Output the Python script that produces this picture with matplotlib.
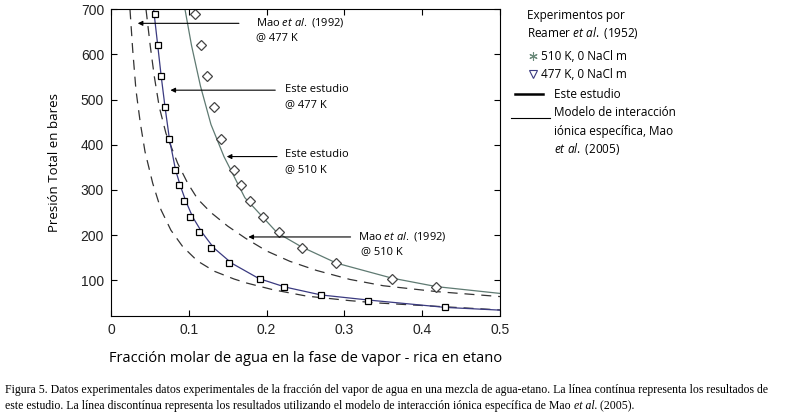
import numpy as np
import matplotlib.pyplot as plt
from matplotlib.lines import Line2D

plt.rcParams['mathtext.fontset'] = 'custom'
plt.rcParams['mathtext.rm'] = 'Open Sans'
plt.rcParams['mathtext.it'] = 'Open Sans:italic'

# --- datos experimentales (Reamer et al., 1952) ---
x_477 = [0.057, 0.0604, 0.0647, 0.069, 0.0741, 0.0823, 0.0878, 0.0934, 0.102,
         0.1127, 0.128, 0.152, 0.191, 0.223, 0.270, 0.330, 0.429]
p_477 = [690, 621, 552, 483, 414, 344, 310, 276, 240, 206, 172, 138, 104, 85,
         67.5, 55, 41]
x_510 = [0.1084, 0.1152, 0.123, 0.132, 0.142, 0.158, 0.167, 0.179, 0.195,
         0.216, 0.2455, 0.2896, 0.3616, 0.418]
p_510 = [690, 621, 552, 483, 414, 344, 310, 276, 240, 206, 172, 138, 104, 85]

# --- este estudio (líneas continuas) ---
xe_477 = [0.0548, 0.0600, 0.0645, 0.0695, 0.075, 0.083, 0.089, 0.096, 0.105,
          0.117, 0.132, 0.155, 0.19, 0.224, 0.27, 0.33, 0.43, 0.5]
pe_477 = [700, 621, 552, 483, 414, 344, 310, 276, 240, 206, 172, 138, 104,
          85, 67.6, 56.5, 40, 34]
xe_510 = [0.0951, 0.1035, 0.115, 0.1285, 0.1452, 0.172, 0.2138, 0.245, 0.29,
          0.3608, 0.4186, 0.5]
pe_510 = [700, 620, 530, 445, 374, 283, 205, 174, 138, 105, 86, 71]

# --- Mao et al. (líneas discontinuas) ---
xm_477 = [0.0244, 0.0279, 0.0321, 0.0377, 0.0437, 0.0536, 0.0643, 0.077,
          0.092, 0.111, 0.1329, 0.158, 0.1744, 0.2086, 0.2516, 0.307, 0.3415, 0.5]
pm_477 = [700, 610, 521, 448, 385, 315, 256, 211, 175, 143, 120, 103, 94,
          79, 65, 55, 50, 34.4]
xm_510 = [0.045, 0.0506, 0.0557, 0.062, 0.0707, 0.0857, 0.0986, 0.1114,
          0.1285, 0.150, 0.173, 0.2, 0.230, 0.264, 0.307, 0.350, 0.4186, 0.5]
pm_510 = [700, 617, 551, 484, 425, 359, 315, 280, 250, 220, 193, 165, 142,
          122, 102, 88, 75, 64]

myriad = ['Open Sans', 'DejaVu Sans']

fig = plt.figure(figsize=(7.98, 4.15), dpi=100)
ax = fig.add_axes([111/798, 1 - 316/415, 389/798, (316 - 9.33)/415])

ax.plot(xm_477, pm_477, '--', color='#333333', lw=0.9, dashes=(8, 5.5))
ax.plot(xm_510, pm_510, '--', color='#333333', lw=0.9, dashes=(8, 5.5))
ax.plot(xe_477, pe_477, '-', color='#3a3a80', lw=0.9)
ax.plot(xe_510, pe_510, '-', color='#5f7a72', lw=0.9)
ax.plot(x_477, p_477, 's', ms=5, mfc='white', mec='black', mew=0.9)
ax.plot(x_510, p_510, 'D', ms=5, mfc='white', mec='#444444', mew=0.9)

ax.set_xlim(0, 0.5)
ax.set_ylim(21, 700)
ax.set_xticks([0, 0.1, 0.2, 0.3, 0.4, 0.5])
ax.set_xticklabels(['0', '0.1', '0.2', '0.3', '0.4', '0.5'])
ax.set_yticks([100, 200, 300, 400, 500, 600, 700])
ax.tick_params(direction='in', top=True, right=True, length=4, width=0.8,
               labelsize=10, pad=5)
for lab in ax.get_xticklabels() + ax.get_yticklabels():
    lab.set_family('Liberation Sans')
    lab.set_color('#222222')
for s in ax.spines.values():
    s.set_linewidth(0.8)

ax.set_ylabel('Presión Total en bares', family=myriad, fontsize=9.5, labelpad=14)
ax.set_xlabel('Fracción molar de agua en la fase de vapor - rica en etano',
              family=myriad, fontsize=10.5, labelpad=10)

# anotaciones con flecha (segunda línea ~15 px más abajo = 33 bares)
arrow = dict(arrowstyle='-|>', color='black', lw=0.8, mutation_scale=7)
tk = dict(family=myriad, fontsize=8, va='center')
ax.annotate('', xy=(0.0308, 669), xytext=(0.168, 669), arrowprops=arrow)
ax.text(0.1864, 671, r'Mao $\it{et\ al.}$ (1992)', **tk)
ax.text(0.1864, 638, '@ 477 K', **tk)
ax.annotate('', xy=(0.0728, 521), xytext=(0.2147, 521), arrowprops=arrow)
ax.text(0.2237, 523, 'Este estudio', **tk)
ax.text(0.2237, 490, '@ 477 K', **tk)
ax.annotate('', xy=(0.1452, 374), xytext=(0.217, 374), arrowprops=arrow)
ax.text(0.2237, 379, 'Este estudio', **tk)
ax.text(0.2237, 346, '@ 510 K', **tk)
ax.annotate('', xy=(0.173, 196), xytext=(0.3115, 196), arrowprops=arrow)
ax.text(0.317, 196, r'Mao $\it{et\ al.}$ (1992)', **tk)
ax.text(0.321, 163, '@ 510 K', **tk)

# leyenda dibujada a mano
fs = 8.5
fig.text(527/798, 1 - 15/415, 'Experimentos por', family=myriad, fontsize=fs, va='center')
fig.text(527/798, 1 - 33/415, r'Reamer $\it{et\ al.}$ (1952)', family=myriad, fontsize=fs, va='center')
fig.add_artist(Line2D([533/798], [1 - 56/415], marker=(6, 2, 0), ms=6,
                      color='#6a8a7a', mew=0.8, transform=fig.transFigure))
fig.text(541/798, 1 - 56/415, '510 K, 0 NaCl m', family=myriad, fontsize=fs, va='center')
fig.add_artist(Line2D([533/798], [1 - 74/415], marker='v', ms=5.5, mfc='white',
                      mec='#3a3a80', mew=0.8, ls='none', transform=fig.transFigure))
fig.text(541/798, 1 - 74/415, '477 K, 0 NaCl m', family=myriad, fontsize=fs, va='center')
fig.add_artist(Line2D([515/798, 543/798], [1 - 94/415, 1 - 94/415], color='black',
                      lw=1.8, transform=fig.transFigure))
fig.text(554/798, 1 - 94/415, 'Este estudio', family=myriad, fontsize=fs, va='center')
fig.add_artist(Line2D([511/798, 550/798], [1 - 118/415, 1 - 118/415], color='black',
                      lw=0.8, transform=fig.transFigure))
fig.text(554/798, 1 - 112/415, 'Modelo de interacción', family=myriad, fontsize=fs, va='center')
fig.text(554/798, 1 - 131/415, 'iónica específica, Mao', family=myriad, fontsize=fs, va='center')
fig.text(554/798, 1 - 149/415, r'$\it{et\ al.}$ (2005)', family=myriad, fontsize=fs, va='center')

# pie de figura (en serif, "et al." en cursiva)
cap1 = ('Figura 5. Datos experimentales datos experimentales de la fracción del vapor de agua en una '
        'mezcla de agua-etano. La línea contínua representa los resultados de')
cap2a = ('este estudio. La línea discontínua representa los resultados utilizando el modelo de '
         'interacción iónica específica de Mao ')
cs = dict(family='Liberation Serif', fontsize=8.5, va='center')
fig.text(5/798, 1 - 390/415, cap1, **cs)
t = fig.text(5/798, 1 - 406/415, cap2a, **cs)
fig.canvas.draw()
x1 = t.get_window_extent().x1 / fig.bbox.width
t2 = fig.text(x1, 1 - 406/415, 'et al.', style='italic', **cs)
fig.canvas.draw()
x2 = t2.get_window_extent().x1 / fig.bbox.width
fig.text(x2, 1 - 406/415, ' (2005).', **cs)

fig.savefig('out.png', dpi=100)
